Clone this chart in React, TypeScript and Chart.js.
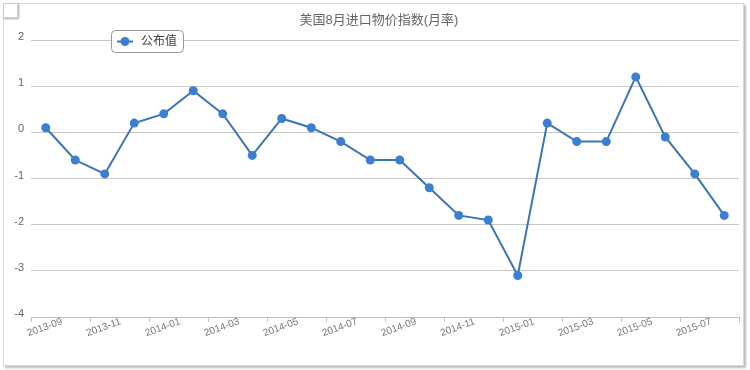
import React, { useEffect, useRef } from 'react';
import { Chart, registerables } from 'chart.js';

Chart.register(...registerables);

const categories = [
  '2013-09', '2013-10', '2013-11', '2013-12', '2014-01', '2014-02', '2014-03', '2014-04',
  '2014-05', '2014-06', '2014-07', '2014-08', '2014-09', '2014-10', '2014-11', '2014-12',
  '2015-01', '2015-02', '2015-03', '2015-04', '2015-05', '2015-06', '2015-07', '2015-08',
];
const publishedValues = [
  0.1, -0.6, -0.9, 0.2, 0.4, 0.9, 0.4, -0.5, 0.3, 0.1, -0.2, -0.6,
  -0.6, -1.2, -1.8, -1.9, -3.1, 0.2, -0.2, -0.2, 1.2, -0.1, -0.9, -1.8,
];
const yTicks = [-4, -3, -2, -1, 0, 1, 2];
const chartTitle = '美国8月进口物价指数(月率)';
const seriesName = '公布值';

const LINE_COLOR = '#3a76b6';
const POINT_COLOR = '#3a7fd2';
const FONT = '"Liberation Sans", Arial, "Noto Sans CJK SC", sans-serif';

const overlayPlugin = {
  id: 'overlay',
  afterDraw(chart: any) {
    const ctx = chart.ctx as CanvasRenderingContext2D;
    const xs = chart.scales.x;
    ctx.save();
    // x labels (every second category), rotated and centred on the category
    ctx.fillStyle = '#777';
    ctx.font = '10px ' + FONT;
    ctx.textAlign = 'center';
    ctx.textBaseline = 'middle';
    categories.forEach((c, i) => {
      if (i % 2 !== 0) return;
      const px = xs.getPixelForValue(i);
      ctx.save();
      ctx.translate(px - 1, xs.top + 10.5);
      ctx.rotate((-20 * Math.PI) / 180);
      ctx.fillText(c, 0, 0);
      ctx.restore();
    });
    // title
    ctx.font = '13px ' + FONT;
    ctx.fillStyle = '#666';
    ctx.fillText(chartTitle, 379, 20.5);
    // legend
    const lx = 111.5, ly = 30.5, lw = 72, lh = 22;
    ctx.beginPath();
    if ((ctx as any).roundRect) (ctx as any).roundRect(lx, ly, lw, lh, 4);
    else ctx.rect(lx, ly, lw, lh);
    ctx.fillStyle = '#fff';
    ctx.fill();
    ctx.lineWidth = 1;
    ctx.strokeStyle = '#999';
    ctx.stroke();
    const cy = ly + lh / 2;
    ctx.beginPath();
    ctx.moveTo(117, cy);
    ctx.lineTo(133, cy);
    ctx.lineWidth = 2;
    ctx.strokeStyle = LINE_COLOR;
    ctx.stroke();
    ctx.beginPath();
    ctx.arc(125, cy, 4.5, 0, Math.PI * 2);
    ctx.fillStyle = POINT_COLOR;
    ctx.fill();
    ctx.font = '12px ' + FONT;
    ctx.fillStyle = '#444';
    ctx.textAlign = 'left';
    ctx.fillText(chart.data.datasets[0].label, 141, cy + 0.5);
    ctx.restore();
  },
};

export default function App() {
  const canvasRef = useRef<HTMLCanvasElement | null>(null);

  useEffect(() => {
    if (!canvasRef.current) return;
    const chart = new Chart(canvasRef.current, {
      type: 'line',
      data: {
        labels: categories,
        datasets: [
          {
            label: seriesName,
            data: publishedValues,
            borderColor: LINE_COLOR,
            borderWidth: 2,
            backgroundColor: POINT_COLOR,
            pointBackgroundColor: POINT_COLOR,
            pointBorderColor: POINT_COLOR,
            pointBorderWidth: 0,
            pointRadius: 4.5,
            tension: 0,
            fill: false,
          },
        ],
      },
      options: {
        responsive: false,
        animation: false,
        layout: { padding: { top: 40, right: 11, left: 0, bottom: 0 } },
        plugins: {
          legend: { display: false },
          title: { display: false },
          tooltip: { enabled: false },
        },
        scales: {
          x: {
            type: 'category',
            offset: true,
            afterFit: (s: any) => {
              s.height = 53;
            },
            grid: {
              offset: true,
              drawOnChartArea: false,
              drawTicks: true,
              tickLength: 5,
              tickColor: (c: any) =>
                c.index === undefined || c.index % 2 === 0 ? '#b0c4cc' : 'rgba(0,0,0,0)',
            },
            border: { display: true, color: '#b0c4cc', width: 1 },
            ticks: { display: false, autoSkip: false },
          },
          y: {
            min: yTicks[0],
            max: yTicks[yTicks.length - 1],
            afterFit: (s: any) => {
              s.width = 31;
            },
            afterBuildTicks: (s: any) => {
              s.ticks = yTicks.map((v) => ({ value: v }));
            },
            grid: { color: '#c8c8c8', drawTicks: false, lineWidth: 1 },
            border: { display: false },
            ticks: {
              stepSize: 1,
              padding: 7,
              labelOffset: -3,
              color: '#666',
              font: { family: FONT, size: 11 },
            },
          },
        },
      },
      plugins: [overlayPlugin],
    });
    return () => chart.destroy();
  }, []);

  return (
    <div style={{ position: 'absolute', left: 0, top: 0, width: 750, height: 370, background: '#fff', overflow: 'hidden' }}>
      <div
        style={{
          position: 'absolute', left: 3, top: 3, width: 741, height: 363, boxSizing: 'border-box',
          border: '1px solid #d8d8d8', boxShadow: '2px 2px 2px #bbb', background: '#fff',
        }}
      />
      <canvas ref={canvasRef} width={750} height={370} style={{ position: 'absolute', left: 0, top: 0, width: 750, height: 370 }} />
      <div
        style={{
          position: 'absolute', left: 3, top: 3, width: 15, height: 15, boxSizing: 'border-box',
          border: '1px solid #ccc', boxShadow: '1px 1px 2px #aaa', background: '#fff',
        }}
      />
    </div>
  );
}
